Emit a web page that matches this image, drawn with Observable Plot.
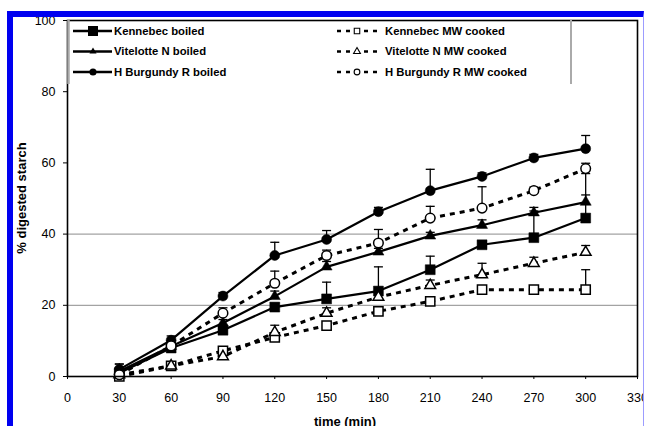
<!DOCTYPE html>
<html>
<head>
<meta charset="utf-8">
<script src="https://cdn.jsdelivr.net/npm/d3@7"></script>
<script src="https://cdn.jsdelivr.net/npm/@observablehq/plot@0.6"></script>
<style>
html, body { margin: 0; padding: 0; background: #fff; }
#wrap { position: relative; width: 645px; height: 426px; overflow: hidden; font-family: "Liberation Sans", Arial, sans-serif; }
#wrap svg { position: absolute; left: 0; top: 0; }
#frame { position: absolute; left: 7px; top: 11px; width: 630px; height: 409px; border-top: 6px solid #0000f0; border-left: 6px solid #0000f0; border-right: 1px solid #9c9cff; pointer-events: none; }
#edge { position: absolute; left: 644px; top: 0; width: 1px; height: 426px; background: #fff; }
#topwhite { position: absolute; left: 0; top: 0; width: 645px; height: 11px; background: #fff; }
</style>
</head>
<body>
<div id="wrap"></div>
<script>
// ---- data ----
const times = [30, 60, 90, 120, 150, 180, 210, 240, 270, 300];
const seriesNames = ["Kennebec boiled", "Vitelotte N boiled", "H Burgundy R boiled",
                     "Kennebec MW cooked", "Vitelotte N MW cooked", "H Burgundy R MW cooked"];
const kennebecBoiled    = [1.0, 8.0, 13.0, 19.5, 21.8, 24.0, 30.0, 37.0, 39.0, 44.5];
const kennebecBoiledErr = [2.5, 1.0, 1.0, 1.0, 4.7, 6.8, 3.8, 1.0, 7.5, 12.5];
const vitelotteBoiled    = [1.5, 8.5, 15.0, 22.5, 30.8, 35.0, 39.5, 42.5, 46.0, 49.0];
const vitelotteBoiledErr = [1.0, 1.0, 1.0, 1.5, 1.5, 1.0, 1.0, 1.5, 1.5, 2.0];
const burgundyBoiled    = [2.0, 10.2, 22.6, 34.0, 38.5, 46.3, 52.2, 56.2, 61.4, 64.0];
const burgundyBoiledErr = [1.5, 1.2, 1.0, 3.7, 2.5, 1.2, 6.0, 1.0, 1.0, 3.7];
const kennebecMW    = [0.0, 3.0, 7.2, 11.0, 14.3, 18.3, 21.1, 24.4, 24.4, 24.4];
const kennebecMWErr = [0.5, 0.5, 0.5, 0.5, 0.5, 0.5, 0.5, 0.5, 0.5, 5.6];
const vitelotteMW    = [0.5, 3.0, 5.6, 12.4, 17.8, 22.3, 25.6, 28.6, 31.8, 34.9];
const vitelotteMWErr = [0.5, 1.0, 1.0, 2.0, 1.5, 1.0, 1.5, 3.2, 1.7, 1.9];
const burgundyMW    = [0.5, 8.6, 17.8, 26.2, 34.0, 37.5, 44.5, 47.3, 52.2, 58.4];
const burgundyMWErr = [1.0, 1.0, 1.5, 3.4, 1.5, 3.8, 3.3, 6.0, 1.0, 1.5];
const xTicks = [0, 30, 60, 90, 120, 150, 180, 210, 240, 270, 300, 330];
const yTicks = [0, 20, 40, 60, 80, 100];
const gridLines = [20, 40];
const xLabel = "time (min)";
const yLabel = "% digested starch";

// ---- build table ----
const seriesValues = [kennebecBoiled, vitelotteBoiled, burgundyBoiled, kennebecMW, vitelotteMW, burgundyMW];
const seriesErrors = [kennebecBoiledErr, vitelotteBoiledErr, burgundyBoiledErr, kennebecMWErr, vitelotteMWErr, burgundyMWErr];
const symbols = ["square", "triangle", "circle", "square", "triangle", "circle"];
const rows = [];
seriesNames.forEach((name, si) => times.forEach((t, i) =>
  rows.push({name, si, t, v: seriesValues[si][i], e: seriesErrors[si][i], mw: si >= 3})));

const capSymbol = { draw(ctx) { ctx.moveTo(-4.5, 0); ctx.lineTo(4.5, 0); } };
const markerR = { square: 5.6, triangle: 4.1, circle: 5 };
const mwR = { square: 5.2, triangle: 4.0, circle: 4.8 };

const marks = [
  Plot.ruleY(gridLines, { stroke: "#8c8c8c", strokeWidth: 1 }),
  Plot.axisY({ ticks: yTicks, tickSize: 4, tickPadding: 8, label: null, fontSize: 12.5 }),
  Plot.axisX({ ticks: xTicks, tickSize: 3, tickPadding: 14, label: null, fontSize: 12.5 }),
];
// lines
seriesNames.forEach((name, si) => {
  const d = rows.filter(r => r.si === si);
  if (si >= 3) marks.push(Plot.line(d, { x: "t", y: "v", stroke: "black", strokeWidth: 3, strokeDasharray: "5,5", strokeLinecap: "butt" }));
  else marks.push(Plot.line(d, { x: "t", y: "v", stroke: "black", strokeWidth: 2.2 }));
});
// error bars
marks.push(Plot.ruleX(rows, { x: "t", y1: "v", y2: d => d.v + d.e, stroke: "black", strokeWidth: 1.3 }));
marks.push(Plot.dot(rows, { x: "t", y: d => d.v + d.e, symbol: capSymbol, stroke: "black", strokeWidth: 1.3, r: 4 }));
// markers: boiled first, then MW open
seriesNames.forEach((name, si) => {
  const d = rows.filter(r => r.si === si);
  const s = symbols[si];
  if (si < 3) marks.push(Plot.dot(d, { x: "t", y: "v", symbol: s, r: markerR[s], fill: "black", stroke: "black", strokeWidth: 0.5 }));
});
seriesNames.forEach((name, si) => {
  const d = rows.filter(r => r.si === si);
  const s = symbols[si];
  if (si >= 3) marks.push(Plot.dot(d, { x: "t", y: "v", symbol: s, r: mwR[s], fill: "white", stroke: "black", strokeWidth: 1.5 }));
});
marks.push(Plot.frame({ stroke: "black", strokeWidth: 1.6 }));

const plot = Plot.plot({
  width: 645, height: 426,
  marginLeft: 67, marginRight: 8, marginTop: 20, marginBottom: 50,
  style: { fontFamily: "'Liberation Sans', Arial, sans-serif", fontSize: "12.5px", color: "black", background: "transparent" },
  x: { domain: [0, 330] },
  y: { domain: [0, 100] },
  marks
});

// ---- legend & axis titles ----
const FONT = "'Liberation Sans', Arial, sans-serif";
const svg = d3.select(plot);
const lg = svg.append("g");
lg.append("line").attr("x1", 68.5).attr("x2", 68.5).attr("y1", 20).attr("y2", 84).attr("stroke", "#aaaaaa").attr("stroke-width", 2.5);
lg.append("line").attr("x1", 571).attr("x2", 571).attr("y1", 20).attr("y2", 84).attr("stroke", "#aaaaaa").attr("stroke-width", 2);
const rowY = [31, 51.5, 72];
const d3sym = { square: d3.symbolSquare, triangle: d3.symbolTriangle, circle: d3.symbolCircle };
const legFilled = { square: 100, triangle: 22, circle: 40 };
const legOpen = { square: 30, triangle: 20, circle: 26 };
function legText(g, x, y, name) {
  g.append("text").attr("x", x).attr("y", y).attr("dy", "0.35em").text(name)
    .style("text-anchor", "start").style("font-family", FONT).style("font-weight", "bold").style("font-size", "11.3px").style("fill", "black");
}
seriesNames.forEach((name, si) => {
  const row = si % 3, y = rowY[row], s = symbols[si];
  const g = lg.append("g");
  if (si < 3) {
    g.append("line").attr("x1", 73).attr("x2", 112).attr("y1", y).attr("y2", y).attr("stroke", "black").attr("stroke-width", 2.4);
    g.append("path").attr("d", d3.symbol(d3sym[s], legFilled[s])()).attr("transform", `translate(93,${y})`).attr("fill", "black");
    legText(g, 114, y, name);
  } else {
    g.append("line").attr("x1", 337).attr("x2", 381).attr("y1", y).attr("y2", y).attr("stroke", "black").attr("stroke-width", 2.6).attr("stroke-dasharray", "4,5");
    g.append("path").attr("d", d3.symbol(d3sym[s], legOpen[s])()).attr("transform", `translate(357,${y})`).attr("fill", "white").attr("stroke", "black").attr("stroke-width", 1.1);
    legText(g, 385, y, name);
  }
});
svg.append("text").attr("x", 345).attr("y", 417).attr("dy", "0.72em").text(xLabel)
  .style("text-anchor", "middle").style("font-family", FONT).style("font-weight", "bold").style("font-size", "13px").style("fill", "black");
svg.append("text").attr("transform", "translate(21,198) rotate(-90)").attr("dy", "0.35em").text(yLabel)
  .style("text-anchor", "middle").style("font-family", FONT).style("font-weight", "bold").style("font-size", "13px").style("fill", "black");

const wrap = document.getElementById("wrap");
wrap.appendChild(plot);
["topwhite", "frame", "edge"].forEach(id => { const d = document.createElement("div"); d.id = id; wrap.appendChild(d); });
</script>
</body>
</html>
